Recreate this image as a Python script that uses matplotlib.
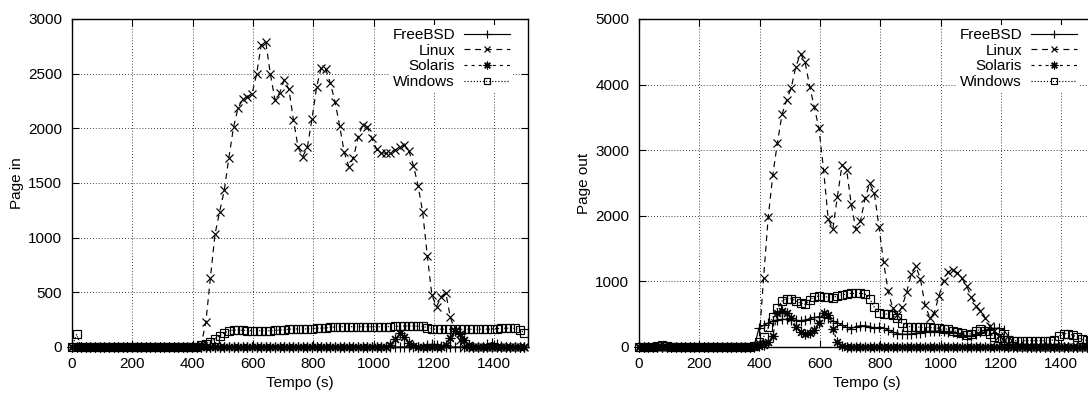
import numpy as np
import matplotlib
matplotlib.use('Agg')
import matplotlib.pyplot as plt

plt.rcParams['font.family'] = ['Liberation Sans', 'DejaVu Sans']
plt.rcParams['font.size'] = 11

INTERVALO = 15.3  # segundos entre amostras

sistemas = ['FreeBSD', 'Linux', 'Solaris', 'Windows']

# Page in
freebsd_in = [0, 0, 0, 0, 0, 0, 0, 0, 0, 0,
              0, 0, 0, 0, 0, 0, 0, 0, 0, 0,
              0, 0, 0, 0, 0, 0, 0, 0, 0, 0,
              0, 0, 0, 0, 0, 0, 0, 0, 0, 0,
              0, 0, 0, 0, 0, 0, 0, 0, 0, 0,
              0, 0, 0, 0, 0, 0, 0, 0, 0, 0,
              0, 0, 0, 0, 0, 0, 0, 0, 0, 0,
              0, 0, 0, 0, 0, 0, 0, 15, 25, 20,
              10, 0, 0, 0, 0, 0, 0, 0, 0, 0,
              25, 40, 30, 10, 0, 0, 0, 0, 0]
linux_in = [0, 0, 0, 0, 0, 0, 0, 0, 0, 0,
            0, 0, 0, 0, 0, 0, 0, 0, 0, 0,
            0, 0, 0, 0, 0, 0, 0, 0, 20, 226,
            634, 1034, 1238, 1433, 1732, 2009, 2189, 2265, 2290, 2314,
            2494, 2762, 2787, 2494, 2259, 2326, 2442, 2357, 2076, 1826,
            1741, 1826, 2082, 2375, 2555, 2540, 2412, 2244, 2024, 1780,
            1649, 1732, 1918, 2030, 2015, 1909, 1808, 1777, 1771, 1777,
            1802, 1826, 1848, 1796, 1659, 1476, 1232, 835, 473, 369,
            460, 497, 271, 150, 60, 0, 0, 0, 0, 0,
            0, 0, 0, 0, 0, 0, 0, 0, 0]
solaris_in = [0, 0, 0, 0, 0, 0, 0, 0, 0, 0,
              0, 0, 0, 0, 0, 0, 0, 0, 0, 0,
              0, 0, 0, 0, 0, 0, 0, 0, 0, 0,
              0, 0, 0, 0, 0, 0, 0, 0, 0, 0,
              0, 0, 0, 0, 0, 0, 0, 0, 0, 0,
              0, 0, 0, 0, 0, 0, 0, 0, 0, 0,
              0, 0, 0, 0, 0, 0, 0, 0, 0, 20,
              75, 130, 90, 35, 5, 0, 0, 0, 0, 0,
              0, 20, 80, 150, 120, 60, 15, 0, 0, 0,
              0, 0, 0, 0, 0, 0, 0, 0, 0]
windows_in = [0, 115, 0, 0, 0, 0, 0, 0, 0, 0,
              0, 0, 0, 0, 0, 0, 0, 0, 0, 0,
              0, 0, 0, 0, 0, 0, 0, 0, 18, 30,
              50, 75, 105, 130, 148, 155, 155, 152, 150, 150,
              150, 150, 150, 150, 152, 155, 158, 162, 165, 165,
              165, 166, 168, 170, 172, 175, 180, 183, 185, 186,
              186, 186, 186, 186, 186, 185, 185, 186, 186, 187,
              188, 190, 192, 192, 192, 190, 188, 178, 168, 164,
              163, 162, 162, 162, 162, 162, 162, 162, 162, 163,
              163, 165, 168, 170, 172, 172, 170, 155, 132]

# Page out
freebsd_out = [0, 0, 0, 0, 0, 0, 0, 0, 0, 0,
               0, 0, 0, 0, 0, 0, 0, 0, 0, 0,
               0, 0, 0, 0, 0, 10, 290, 330, 365, 398,
               415, 422, 421, 415, 408, 402, 412, 432, 450, 462,
               458, 435, 398, 368, 332, 300, 282, 312, 325, 325,
               312, 290, 298, 292, 260, 226, 205, 196, 194, 199,
               210, 219, 232, 239, 243, 244, 238, 234, 232, 208,
               183, 168, 170, 198, 234, 258, 280, 285, 285, 262,
               170, 82, 40, 12, 0, 0, 0, 0, 0, 0,
               0, 0, 0, 0, 0, 0, 0, 0, 0]
linux_out = [0, 0, 0, 0, 0, 0, 0, 0, 0, 0,
             0, 0, 0, 0, 0, 0, 0, 0, 0, 0,
             0, 0, 0, 0, 0, 20, 60, 1057, 1977, 2622,
             3115, 3547, 3766, 3954, 4274, 4472, 4340, 3969, 3654, 3334,
             2699, 1952, 1794, 2292, 2775, 2699, 2175, 1794, 1921, 2267,
             2495, 2343, 1835, 1296, 849, 590, 488, 615, 834, 1113,
             1235, 1032, 641, 448, 524, 778, 1011, 1149, 1174, 1133,
             1047, 930, 768, 625, 549, 447, 320, 250, 170, 100,
             40, 0, 0, 0, 0, 0, 0, 0, 0, 0,
             0, 0, 0, 0, 0, 0, 0, 0, 0]
solaris_out = [0, 0, 0, 0, 0, 0, 0, 0, 0, 0,
               0, 0, 0, 0, 0, 0, 0, 0, 0, 0,
               0, 0, 0, 0, 0, 0, 10, 31, 80, 168,
               524, 549, 514, 438, 311, 234, 194, 209, 260, 361,
               514, 488, 270, 82, 10, 0, 0, 0, 0, 0,
               0, 0, 0, 0, 0, 0, 0, 0, 0, 0,
               0, 0, 0, 0, 0, 0, 0, 0, 0, 0,
               0, 0, 0, 0, 0, 0, 0, 0, 0, 0,
               0, 0, 0, 0, 0, 0, 0, 0, 0, 0,
               0, 0, 0, 0, 0, 0, 0, 0, 0]
windows_out = [0, 0, 0, 0, 20, 30, 20, 0, 0, 0,
               0, 0, 0, 0, 0, 0, 0, 0, 0, 0,
               0, 0, 0, 0, 0, 20, 80, 148, 300, 453,
               590, 702, 737, 737, 702, 666, 651, 717, 768, 778,
               757, 768, 752, 778, 793, 808, 818, 818, 818, 810,
               737, 605, 524, 503, 503, 488, 437, 361, 310, 310,
               305, 300, 300, 298, 292, 285, 280, 270, 250, 234,
               210, 185, 205, 245, 268, 245, 195, 160, 135, 110,
               100, 97, 97, 97, 97, 97, 97, 97, 97, 97,
               110, 170, 205, 205, 180, 150, 117, 100, 100]

tempo = np.arange(len(linux_in)) * INTERVALO

# estilo tipo gnuplot: linha, marcador
estilos = [
    dict(linestyle='-', marker='+', markersize=7),
    dict(linestyle=(0, (5, 4)), marker='x', markersize=6),
    dict(linestyle=(0, (2.5, 3.5)), marker=(8, 2, 0), markersize=7),
    dict(linestyle=(0, (1, 1.6)), marker='s', markersize=5.5, markerfacecolor='none'),
]


def desenha(ax, series, ymax, ypasso, ylabel):
    for nome, valores, est in zip(sistemas, series, estilos):
        ax.plot(tempo, valores, color='black', linewidth=0.85,
                markeredgewidth=0.85, label=nome, clip_on=False, **est)

    ax.set_xlim(0, 1512)
    ax.set_ylim(0, ymax)
    ax.set_xticks(np.arange(0, 1401, 200))
    ax.set_yticks(np.arange(0, ymax + 1, ypasso))
    ax.set_axisbelow(True)
    ax.grid(True, color='black', linestyle=(0, (1, 2.5)), linewidth=0.6)
    ax.tick_params(direction='in', top=True, right=True, length=5,
                   width=0.8, pad=7, labelsize=11)
    for s in ax.spines.values():
        s.set_linewidth(1.0)

    ax.set_xlabel('Tempo (s)', fontsize=11)
    ax.xaxis.set_label_coords(0.5, -0.088)
    ax.set_ylabel(ylabel, fontsize=11)
    ax.yaxis.set_label_coords(-0.106, 0.5)

    leg = ax.legend(loc='upper right', bbox_to_anchor=(0.967, 0.982),
                    borderaxespad=0, borderpad=0.2, markerfirst=False,
                    handlelength=3.0, handletextpad=0.6, labelspacing=0.11,
                    numpoints=1, markerscale=0.8, fontsize=11,
                    frameon=True, fancybox=False)
    leg.get_frame().set_facecolor('white')
    leg.get_frame().set_edgecolor('none')
    leg.get_frame().set_alpha(1)


fig = plt.figure(figsize=(10.88, 3.94), dpi=100)
ax1 = fig.add_axes([72 / 1088, 47 / 394, 456 / 1088, 328 / 394])
ax2 = fig.add_axes([639 / 1088, 47 / 394, 456 / 1088, 328 / 394])

desenha(ax1, [freebsd_in, linux_in, solaris_in, windows_in], 3000, 500, 'Page in')
desenha(ax2, [freebsd_out, linux_out, solaris_out, windows_out], 5000, 1000, 'Page out')

fig.savefig('out.png', dpi=100)
